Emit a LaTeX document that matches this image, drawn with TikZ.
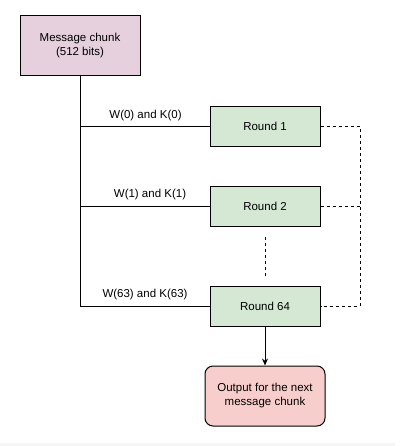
\documentclass[tikz,border=0pt]{standalone}
\usepackage{fontspec}
\setmainfont{Liberation Sans}
\usepackage{xcolor}
\usetikzlibrary{arrows.meta}

\definecolor{msgfill}{HTML}{E6D0DE}
\definecolor{roundfill}{HTML}{D5E8D4}
\definecolor{outfill}{HTML}{F8CECC}

\tikzset{
    box/.style={draw=black, line width=1pt, minimum width=110pt, minimum height=40pt, fill=roundfill, inner sep=0pt},
    lbl/.style={font=\fontsize{11.5}{14}\selectfont, inner sep=1pt}
}

\begin{document}
\begin{tikzpicture}[x=1pt,y=-1pt,font=\fontsize{11.5}{14}\selectfont]
            \useasboundingbox (0,0) rectangle (405,446);
            \fill[black!4] (0,443) rectangle (395,446);

            \node[box, fill=msgfill, minimum width=120pt, minimum height=60pt, align=center] (msg) at (80,46) {Message chunk\\(512 bits)};
            \node[box] (round1) at (265,126.5) {Round 1};
            \node[box] (round2) at (265,206.5) {Round 2};
            \node[box] (round64) at (265,306) {Round 64};
            \node[box, fill=outfill, rounded corners=8pt, minimum width=120pt, minimum height=60pt, align=center] (out) at (265,396) {Output for the next\\message chunk};

            \begin{scope}[line width=1pt]
                \coordinate (b1) at (80,126.5);
                \coordinate (b2) at (80,206.5);
                \draw (msg.south) |- (round64.west);
                \draw (b1) -- (round1.west);
                \draw (b2) -- (round2.west);
                \draw[-{Stealth[length=7pt,width=6pt]}] (round64.south) -- (out.north);
            \end{scope}

            \node[lbl] (w0) at (145.5,115.5) {W(0) and K(0)};
            \node[lbl] (w1) at (150,194.5) {W(1) and K(1)};
            \node[lbl] (w63) at (145,294.5) {W(63) and K(63)};

            \begin{scope}[dashed, line width=0.8pt, dash pattern=on 3pt off 3pt]
                \coordinate (c1) at (360,126.5);
                \coordinate (c2) at (360,206.5);
                \draw (round1.east) -- (c1) |- (round64.east);
                \draw (round2.east) -- (c2);
                \coordinate (d1) at (265,237);
                \coordinate (d2) at (265,276);
                \draw (d1) -- (d2);
            \end{scope}
        \end{tikzpicture}
\end{document}
